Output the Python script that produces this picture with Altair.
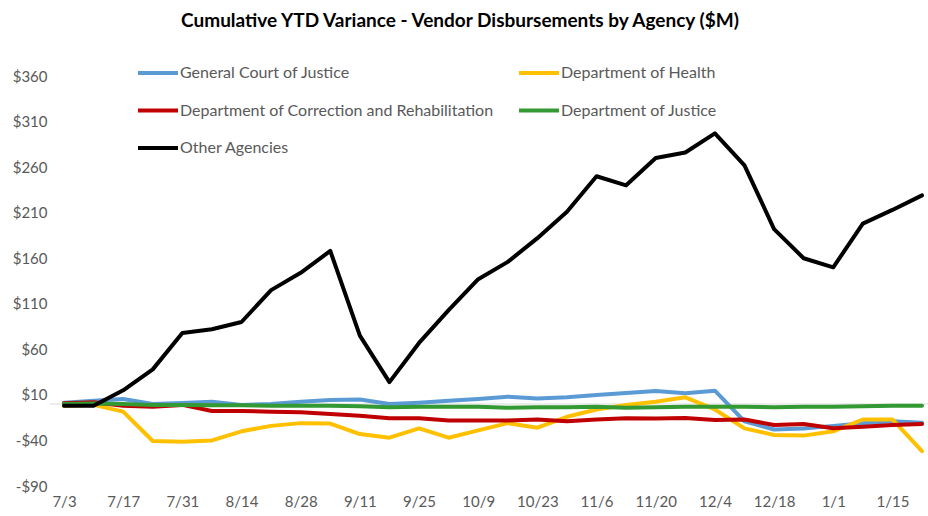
import json
import altair as alt
import pandas as pd

# ---- data ----
weeks = ["7/3", "7/10", "7/17", "7/24", "7/31", "8/7", "8/14", "8/21", "8/28", "9/4",
         "9/11", "9/18", "9/25", "10/2", "10/9", "10/16", "10/23", "10/30", "11/6", "11/13",
         "11/20", "11/27", "12/4", "12/11", "12/18", "12/25", "1/1", "1/8", "1/15", "1/22"]
tick_labels = ["7/3", "7/17", "7/31", "8/14", "8/28", "9/11", "9/25", "10/9", "10/23",
               "11/6", "11/20", "12/4", "12/18", "1/1", "1/15"]

series_names = ["General Court of Justice", "Department of Health",
                "Department of Correction and Rehabilitation", "Department of Justice",
                "Other Agencies"]
series_colors = ["#5B9BD5", "#FFC000", "#C00000", "#339933", "#000000"]

general_court = [1.5, 3.5, 5.5, 0, 1, 2.5, -1, 0, 2.5, 4.4,
                 5, 0, 1.5, 3.6, 5.5, 8, 6, 7.3, 10, 12,
                 14.3, 11.7, 14.6, -19, -28, -27, -24, -21, -19, -20.5]
health = [-2, -1, -8.4, -40.6, -41.3, -40, -30, -24, -21, -21.5,
          -33, -37, -26.7, -37, -29, -21, -26, -14, -6, -1,
          2.5, 7.3, -6, -26.7, -34, -34.7, -30, -17, -17, -51.6]
correction = [0.7, 2, -2, -3, -1, -7.7, -7.7, -8.4, -9, -11,
              -12.8, -15.7, -15.7, -18, -18, -18, -17, -19, -17, -15.7,
              -16, -15.4, -17.5, -17, -23, -22, -26.7, -25, -23, -22]
justice = [0, 0.5, 0, -1, -1, -1.5, -1.5, -2, -2, -2,
           -2.5, -3.5, -3, -3, -3, -4, -3.5, -3.5, -3, -4,
           -3.5, -3, -3, -3, -3.5, -3, -3, -2.5, -2, -2]
other = [-2, -2, 15, 38, 78, 82, 90, 125, 144, 168,
         75, 24, 67, 103, 137, 156, 182, 211, 250, 240,
         270, 276, 297, 262, 192, 160, 150, 198, 213, 229]

y_ticks = [-90, -40, 10, 60, 110, 160, 210, 260, 310, 360]

rows = []
for name, vals in zip(series_names, [general_court, health, correction, justice, other]):
    for i, (w, v) in enumerate(zip(weeks, vals)):
        rows.append({"week": w, "idx": i, "agency": name, "value": v})
df = pd.DataFrame(rows)

FONT = "Lato"
GREY = "#595959"

label_expr = json.dumps(tick_labels) + "[datum.value / 2]"

x_enc = alt.X(
    "idx:Q",
    scale=alt.Scale(domain=[-0.4732, 29.2028], nice=False, zero=False),
    axis=alt.Axis(values=list(range(0, 30, 2)), labelExpr=label_expr, title=None,
                  domain=False, ticks=False, grid=False, labelFont=FONT,
                  labelFontSize=15, labelColor=GREY, labelPadding=8),
)
y_scale = alt.Scale(domain=[-90, 360], nice=False, zero=False)

zero_line = alt.Chart(pd.DataFrame({"v": [0]})).mark_rule(
    color="#D9D9D9", strokeWidth=1
).encode(y=alt.Y("v:Q", scale=y_scale))

lines = alt.Chart(df).mark_line(
    strokeWidth=4, strokeCap="round", strokeJoin="round"
).encode(
    x=x_enc,
    y=alt.Y("value:Q", scale=y_scale,
            axis=alt.Axis(values=y_ticks, title=None, domain=False, ticks=False, grid=False,
                          labelExpr="datum.value < 0 ? '-$' + abs(datum.value) : '$' + datum.value",
                          labelFont=FONT, labelFontSize=15, labelColor=GREY, labelPadding=3)),
    color=alt.Color("agency:N",
                    scale=alt.Scale(domain=series_names, range=series_colors),
                    legend=alt.Legend(orient="none", legendX=86, legendY=-25, columns=2,
                                      direction="horizontal",
                                      title=None, symbolType="stroke", symbolSize=1600,
                                      symbolStrokeWidth=4, labelFont=FONT, labelFontSize=16,
                                      labelColor=GREY, labelOffset=0, rowPadding=7.5,
                                      columnPadding=17, labelLimit=0, padding=0)),
)

chart = alt.layer(zero_line, lines).properties(
    width=878,
    height=410,
    title=alt.TitleParams("Cumulative YTD Variance - Vendor Disbursements by Agency ($M)",
                          font=FONT, fontSize=19, fontWeight="bold", color="#000000",
                          anchor="middle", dx=-29, offset=20),
    padding={"left": 50, "top": 76, "right": 0, "bottom": 30},
    autosize=alt.AutoSizeParams(type="none"),
    background="white",
).configure_view(stroke=None)

chart.save("out.html", embed_options={"renderer": "svg", "actions": False})
